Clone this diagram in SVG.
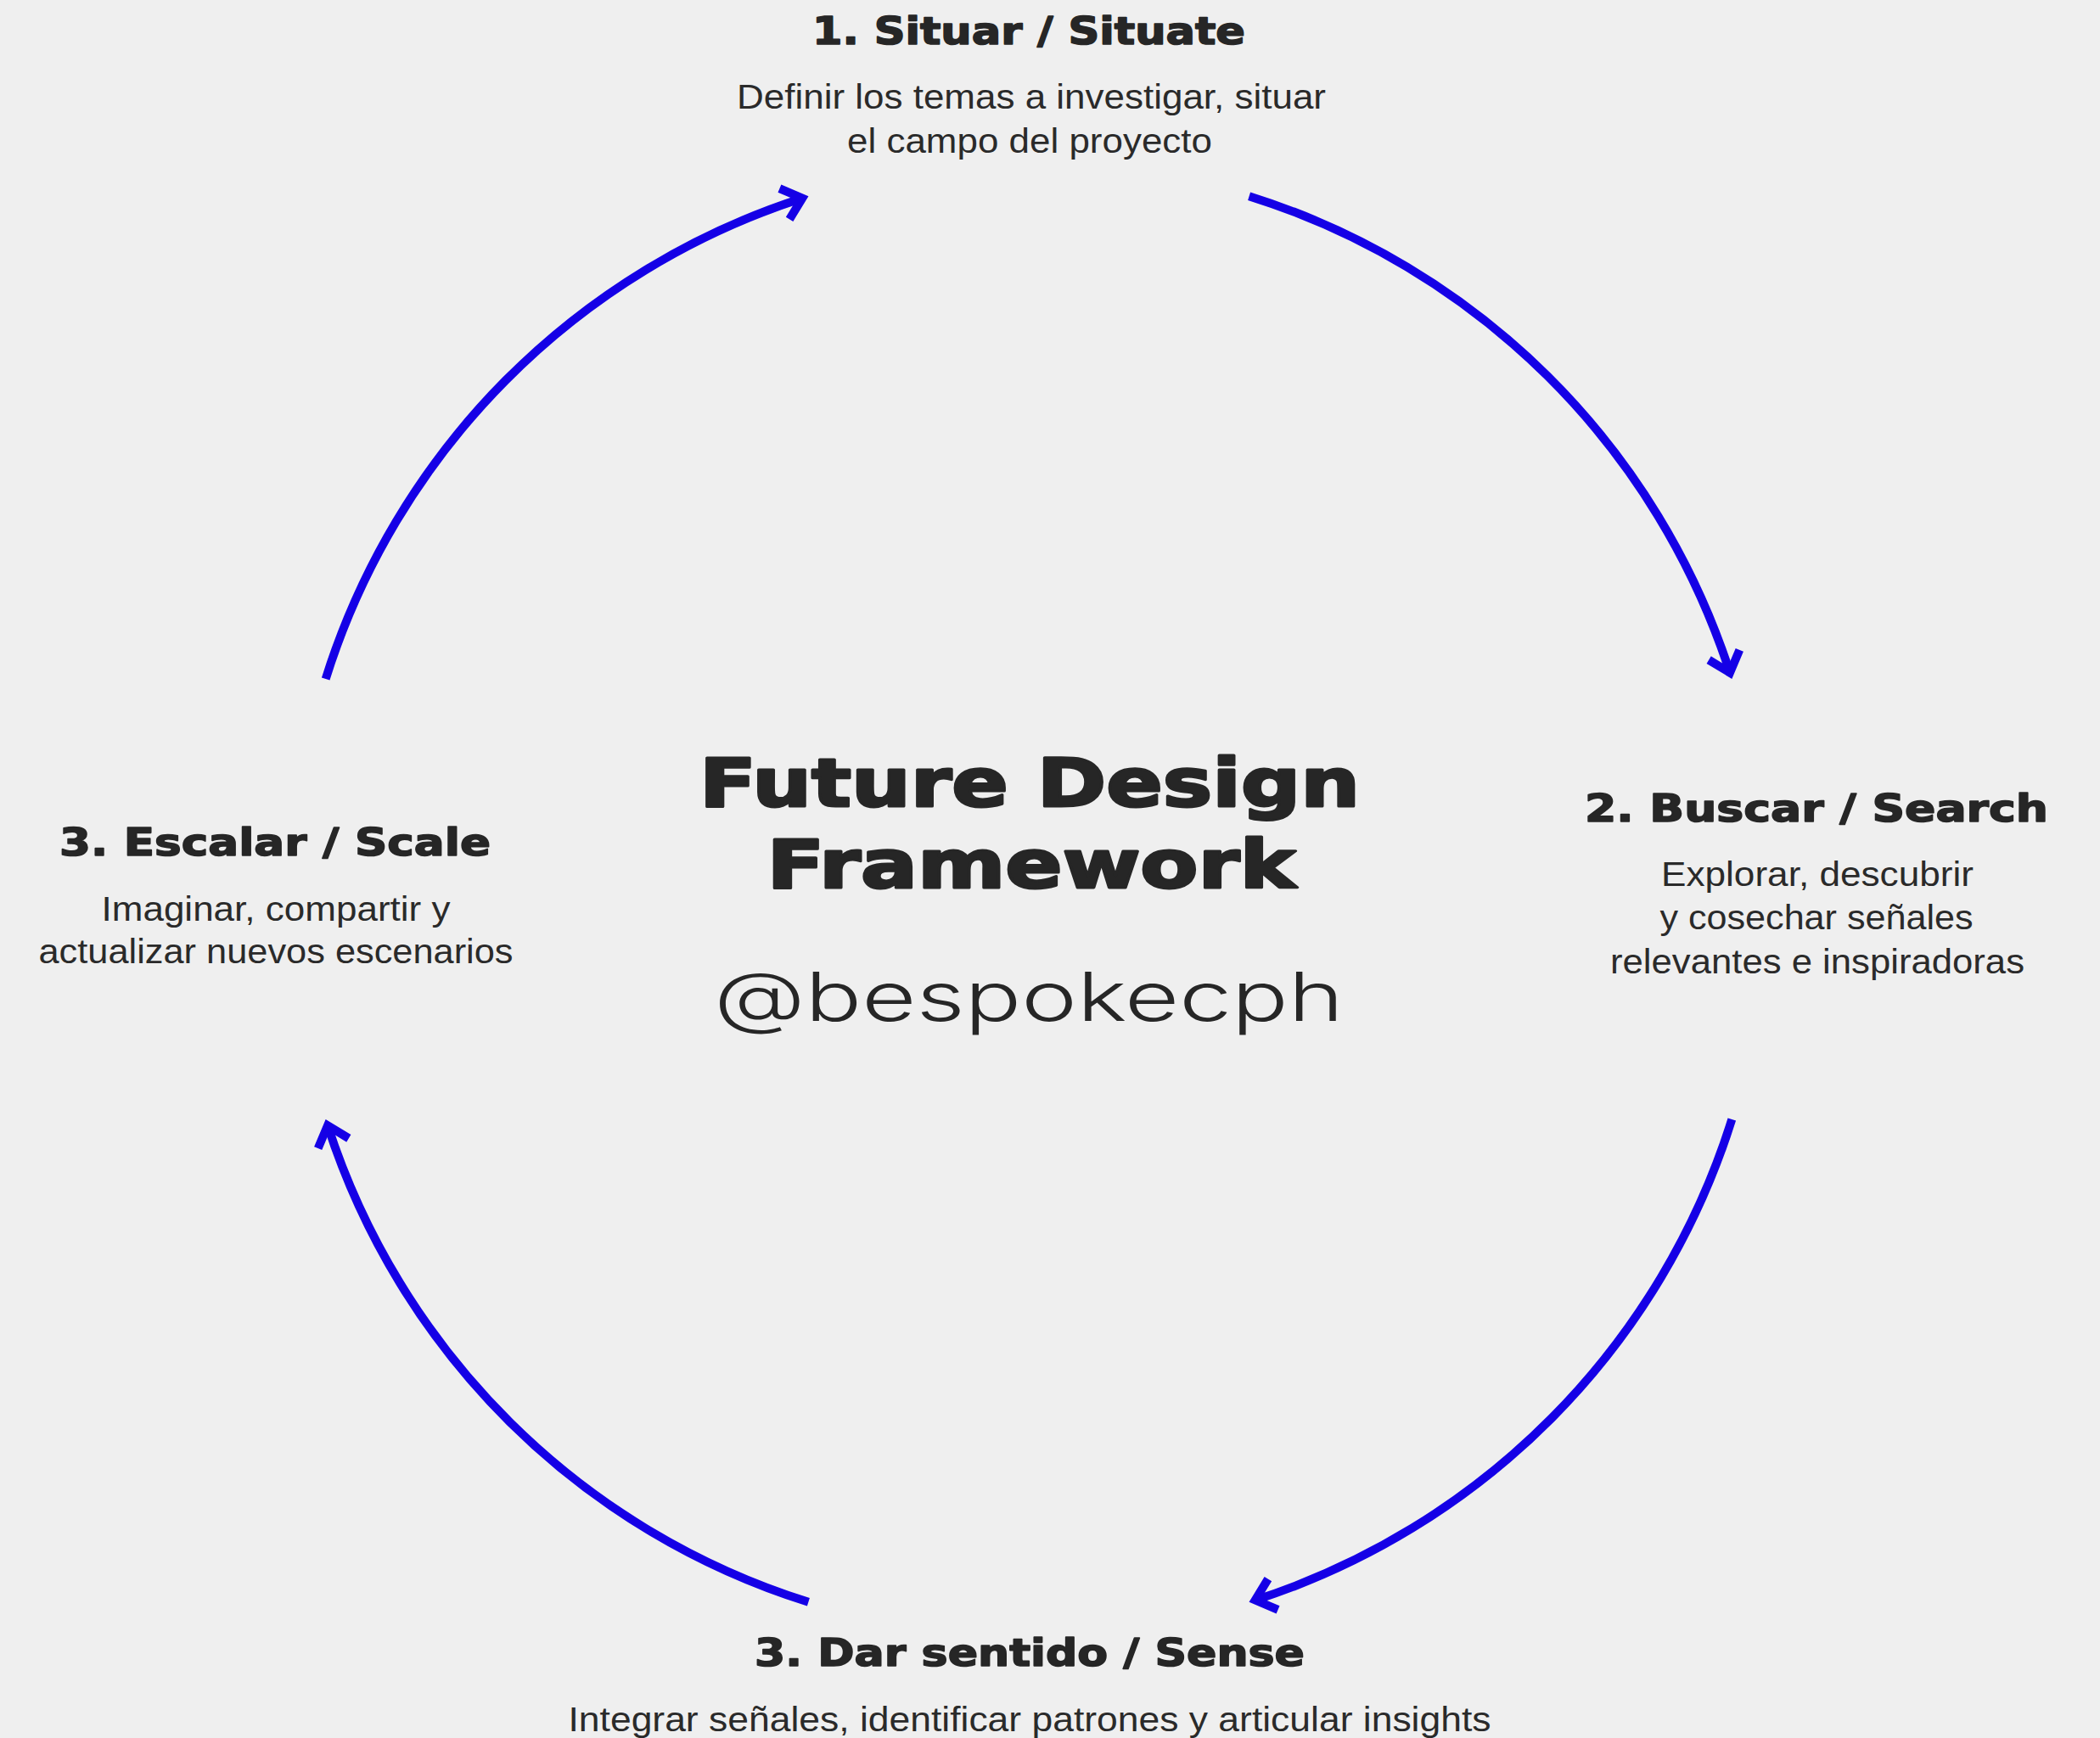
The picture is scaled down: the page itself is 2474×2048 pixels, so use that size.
<svg xmlns="http://www.w3.org/2000/svg" width="2474" height="2048" viewBox="0 0 2474 2048">
<style>
.h{font-family:"DejaVu Sans","Liberation Sans",sans-serif;font-weight:bold;font-size:45px;fill:#262626;stroke:#262626;stroke-width:1.6px;stroke-linejoin:round;text-anchor:middle}
.d{font-family:"Liberation Sans","Noto Sans",sans-serif;font-size:40px;fill:#2a2a2a;text-anchor:middle}
.big{font-family:"DejaVu Sans","Liberation Sans",sans-serif;font-weight:bold;font-size:79px;fill:#262626;stroke:#262626;stroke-width:3px;stroke-linejoin:round;text-anchor:middle}
.tag{font-family:"Inter","Liberation Sans",sans-serif;font-weight:300;font-size:80px;fill:#262626;text-anchor:middle}
.arc{fill:none;stroke:#1500e6;stroke-width:10;stroke-linecap:butt;marker-end:url(#chev)}
</style>
<defs>
<marker id="chev" markerUnits="userSpaceOnUse" orient="auto" refX="0" refY="0" markerWidth="60" markerHeight="60" viewBox="-40 -30 60 60" overflow="visible">
<path d="M -22 -19 L 0 0 L -22 19" fill="none" stroke="#1500e6" stroke-width="10" stroke-linejoin="miter" stroke-miterlimit="10"/>
</marker>
</defs>
<rect width="2474" height="2048" fill="#efefef"/>
<g id="connectors">
<path class="arc" d="M 1471.6 231.2 A 868 868 0 0 1 2038.0 792.7"/>
<path class="arc" d="M 2040.3 1319.1 A 868 868 0 0 1 1478.8 1885.5"/>
<path class="arc" d="M 952.4 1887.8 A 868 868 0 0 1 386.0 1326.3"/>
<path class="arc" d="M 383.7 799.9 A 868 868 0 0 1 945.2 233.5"/>
</g>
<g id="center">
<text class="big" x="1213" y="950" textLength="778" lengthAdjust="spacingAndGlyphs">Future Design</text>
<text class="big" x="1215" y="1046" textLength="623" lengthAdjust="spacingAndGlyphs">Framework</text>
<text class="tag" x="1212" y="1203" textLength="742" lengthAdjust="spacingAndGlyphs">@bespokecph</text>
</g>
<g id="node-situar">
<text class="h" x="1212" y="52" textLength="510" lengthAdjust="spacingAndGlyphs">1. Situar / Situate</text>
<text class="d" x="1215" y="128" textLength="694" lengthAdjust="spacingAndGlyphs">Definir los temas a investigar, situar</text>
<text class="d" x="1213" y="180" textLength="430" lengthAdjust="spacingAndGlyphs">el campo del proyecto</text>
</g>
<g id="node-buscar">
<text class="h" x="2140" y="968" textLength="546" lengthAdjust="spacingAndGlyphs">2. Buscar / Search</text>
<text class="d" x="2141" y="1044" textLength="368" lengthAdjust="spacingAndGlyphs">Explorar, descubrir</text>
<text class="d" x="2140" y="1095" textLength="369" lengthAdjust="spacingAndGlyphs">y cosechar señales</text>
<text class="d" x="2141" y="1147" textLength="488" lengthAdjust="spacingAndGlyphs">relevantes e inspiradoras</text>
</g>
<g id="node-sentido">
<text class="h" x="1213" y="1963" textLength="648" lengthAdjust="spacingAndGlyphs">3. Dar sentido / Sense</text>
<text class="d" x="1213" y="2040" textLength="1087" lengthAdjust="spacingAndGlyphs">Integrar señales, identificar patrones y articular insights</text>
</g>
<g id="node-escalar">
<text class="h" x="324" y="1008" textLength="508" lengthAdjust="spacingAndGlyphs">3. Escalar / Scale</text>
<text class="d" x="325" y="1085" textLength="411" lengthAdjust="spacingAndGlyphs">Imaginar, compartir y</text>
<text class="d" x="325" y="1135" textLength="559" lengthAdjust="spacingAndGlyphs">actualizar nuevos escenarios</text>
</g>
</svg>
